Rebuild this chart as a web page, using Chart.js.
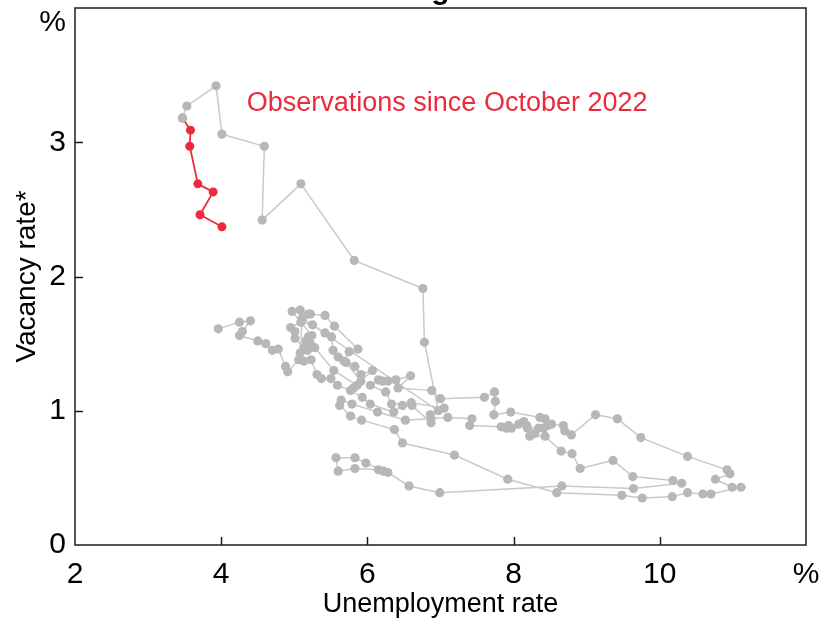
<!DOCTYPE html>
<html>
<head>
<meta charset="utf-8">
<script src="https://cdn.jsdelivr.net/npm/chart.js@4.4.1/dist/chart.umd.min.js"></script>
<style>
  html, body { margin: 0; padding: 0; background: #ffffff; overflow: hidden; }
  #wrap { position: absolute; left: 0; top: 0; width: 819px; height: 621px; }
</style>
</head>
<body>
<div id="wrap"><canvas id="chart"></canvas></div>
<script>
// Quarterly unemployment rate (%) and vacancy rate (%), oldest first.
// null marks the break in the vacancy survey (2008-2009).
const unemploymentHistory = [
  6.22, 6.15, 5.83, 5.60, 5.57, 5.83, 5.98, 6.28, 6.57, 6.99,
  8.66, 9.64, 10.30, 10.18,
  9.63, 9.36, 8.91, 8.80,
  8.65, 8.43, 8.22, 8.29,
  8.41, 8.34, 8.19, 8.18,
  8.14, 8.07, 7.97, 7.93,
  7.90, 7.83, 7.40, 7.43,
  7.10, 6.52, 6.14, 5.79, 5.64,
  5.62, 5.77, 5.92, 6.37, 6.48,
  7.19, 7.92, 8.59, 9.48, 9.76,
  10.17, 10.38, 10.59, 10.70,
  11.11, 10.99, 10.76, 10.96,
  10.92, 10.38, 9.74, 9.42,
  9.12, 8.79, 8.70, 8.68,
  8.52, 8.47, 8.43, 8.36,
  7.96, 7.73, 7.75, 7.74,
  7.60, 7.00, 6.88, 6.42,
  6.59, 6.39, 6.28, 6.21,
  6.15, 6.04, 6.25, 6.33,
  6.60, 7.05, 6.86, 6.87,
  6.87, 6.61, 6.48, 6.36,
  6.04, 5.93, 5.77, 5.59,
  5.50, 5.37, 5.31, 5.23,
  5.13, 5.06, 4.91, 4.88,
  4.78, 4.70, 4.61, 4.50,
  4.25, 4.29, 4.40, 4.25,
  3.96,
  null,
  5.81,
  5.86, 5.54, 5.28, 5.18,
  5.13, 5.01, 5.01, 4.95,
  5.09, 5.25, 5.42, 5.51,
  5.53, 5.60, 5.83, 5.91,
  6.07, 5.91, 5.71, 5.68,
  5.75, 5.87, 5.55, 5.42,
  5.22, 5.19, 5.08, 4.97,
  5.24, 5.19, 5.16, 5.22,
  5.08, 5.11,
  6.97, 6.78, 6.76,
  5.82, 5.09, 4.56, 4.59,
  4.01, 3.93, 3.53, 3.47
];
const vacancyHistory = [
  0.55, 0.56, 0.57, 0.55, 0.65, 0.65, 0.61, 0.54, 0.44, 0.39,
  0.44, 0.42, 0.46, 0.48,
  0.51, 0.63, 0.57, 0.68,
  0.70, 0.81, 0.81, 0.83,
  0.87, 0.87, 0.87, 0.89,
  0.92, 0.90, 0.87, 0.89,
  0.87, 0.88, 0.89, 0.94,
  0.95, 0.93, 0.99, 1.05, 1.08,
  1.04, 0.96, 0.93, 0.86, 0.76,
  0.67, 0.49, 0.39, 0.37, 0.35,
  0.36, 0.39, 0.38, 0.38,
  0.43, 0.43, 0.49, 0.53,
  0.56, 0.66, 0.80, 0.94,
  0.97, 0.82, 0.85, 0.89,
  0.90, 0.89, 0.94, 0.95,
  0.99, 0.97, 1.07, 1.14,
  1.10, 1.09, 1.15, 1.17,
  1.26, 1.23, 1.22, 1.22,
  1.23, 1.19, 1.14, 1.05,
  1.06, 1.02, 0.97, 0.94,
  0.91, 1.04, 1.04, 0.99,
  1.05, 1.10, 1.15, 1.19,
  1.24, 1.24, 1.27, 1.38,
  1.37, 1.38, 1.29, 1.33,
  1.46, 1.45, 1.50, 1.52,
  1.56, 1.59, 1.67, 1.66,
  1.61,
  null,
  1.17,
  1.19, 1.30, 1.47, 1.45,
  1.47, 1.54, 1.59, 1.62,
  1.66, 1.64, 1.58, 1.55,
  1.45, 1.40, 1.33, 1.27,
  1.30, 1.22, 1.36, 1.37,
  1.44, 1.46, 1.63, 1.71,
  1.72, 1.72, 1.75, 1.74,
  1.56, 1.55, 1.52, 1.50,
  1.43, 1.69,
  1.00, 1.51, 1.91,
  2.12, 2.69, 2.42, 2.97,
  3.06, 3.42, 3.27, 3.18
];

// Observations since October 2022
const unemploymentRecent = [3.47, 3.58, 3.57, 3.68, 3.89, 3.71, 4.01];
const vacancyRecent      = [3.18, 3.09, 2.97, 2.69, 2.63, 2.46, 2.37];

const xTickValues = [2, 4, 6, 8, 10, 12];
const yTickValues = [0, 1, 2, 3];
const xUnitLabel = '%';
const yUnitLabel = '%';
const chartTitle = 'Beveridge Curve';
const recentLabel = 'Observations since October 2022';

const GREY_POINT = '#b7b7b7';
const GREY_LINE = '#c9c9c9';
const RED = '#ec2a3c';
const AXIS_FONT = '"Liberation Sans", Arial, sans-serif';

function toPoints(xs, ys) {
  return xs.map((x, i) => ({ x: x, y: ys[i] }));
}

const decorations = {
  id: 'decorations',
  beforeDatasetsDraw(chart) {
    const { ctx, chartArea: a, scales: { x, y } } = chart;
    ctx.save();
    ctx.strokeStyle = '#1c1c1c';
    ctx.lineWidth = 1.5;
    ctx.strokeRect(a.left, a.top, a.right - a.left, a.bottom - a.top);
    ctx.beginPath();
    xTickValues.slice(1, -1).forEach(v => {
      const px = Math.round(x.getPixelForValue(v)) + 0.5;
      ctx.moveTo(px, a.bottom);
      ctx.lineTo(px, a.bottom - 8);
    });
    yTickValues.slice(1).forEach(v => {
      const py = Math.round(y.getPixelForValue(v)) + 0.5;
      ctx.moveTo(a.left, py);
      ctx.lineTo(a.left + 8, py);
    });
    ctx.stroke();
    ctx.restore();
  },
  afterDraw(chart) {
    const { ctx, chartArea: a, scales: { x, y } } = chart;
    ctx.save();
    // title, sitting above the visible frame
    ctx.fillStyle = '#000';
    ctx.font = 'bold 30px ' + AXIS_FONT;
    ctx.textAlign = 'center';
    ctx.textBaseline = 'alphabetic';
    ctx.fillText(chartTitle, (a.left + a.right) / 2, -1);
    // unit of the vertical axis
    ctx.font = '30px ' + AXIS_FONT;
    ctx.textAlign = 'right';
    ctx.textBaseline = 'middle';
    ctx.fillText(yUnitLabel, a.left - 9, y.getPixelForValue(4) + 15);
    // label for the recent observations
    ctx.fillStyle = RED;
    ctx.font = '27px ' + AXIS_FONT;
    ctx.textAlign = 'left';
    ctx.fillText(recentLabel, x.getPixelForValue(4.35), y.getPixelForValue(3.29));
    ctx.restore();
  }
};

new Chart(document.getElementById('chart'), {
  type: 'scatter',
  data: {
    datasets: [
      {
        label: 'History',
        data: toPoints(unemploymentHistory, vacancyHistory),
        showLine: true,
        spanGaps: false,
        borderColor: GREY_LINE,
        borderWidth: 1.5,
        backgroundColor: GREY_POINT,
        pointBackgroundColor: GREY_POINT,
        pointBorderWidth: 0,
        pointRadius: 4.6,
        pointHoverRadius: 4.6
      },
      {
        label: recentLabel,
        data: toPoints(unemploymentRecent, vacancyRecent),
        showLine: true,
        borderColor: RED,
        borderWidth: 1.8,
        backgroundColor: RED,
        pointBackgroundColor: RED,
        pointBorderWidth: 0,
        pointRadius: 4.5,
        pointHoverRadius: 4.5
      }
    ]
  },
  options: {
    responsive: true,
    maintainAspectRatio: false,
    devicePixelRatio: 1,
    animation: false,
    events: [],
    layout: { padding: { top: 8, right: 13, bottom: 0, left: 0 } },
    plugins: {
      legend: { display: false },
      tooltip: { enabled: false },
      title: { display: false }
    },
    scales: {
      x: {
        type: 'linear',
        min: 2,
        max: 12,
        afterBuildTicks: s => { s.ticks = xTickValues.map(v => ({ value: v })); },
        afterFit: s => { s.height = 76; s.paddingLeft = 0; s.paddingRight = 0; },
        grid: { display: false, drawTicks: false },
        border: { display: false },
        ticks: {
          color: '#000',
          padding: 12,
          maxRotation: 0,
          font: { family: AXIS_FONT, size: 30 },
          callback: v => (v === 12 ? xUnitLabel : String(v))
        },
        title: {
          display: true,
          text: 'Unemployment rate',
          color: '#000',
          font: { family: AXIS_FONT, size: 27 },
          padding: { top: 0, bottom: 0 }
        }
      },
      y: {
        type: 'linear',
        min: 0,
        max: 4,
        afterBuildTicks: s => { s.ticks = yTickValues.map(v => ({ value: v })); },
        afterFit: s => { s.width = 75; s.paddingTop = 0; s.paddingBottom = 0; },
        grid: { display: false, drawTicks: false },
        border: { display: false },
        ticks: {
          color: '#000',
          padding: 9,
          font: { family: AXIS_FONT, size: 30 },
          callback: v => String(v)
        },
        title: {
          display: true,
          text: 'Vacancy rate*',
          color: '#000',
          font: { family: AXIS_FONT, size: 28 },
          padding: { top: 10, bottom: 0 }
        }
      }
    }
  },
  plugins: [decorations]
});
</script>
</body>
</html>
